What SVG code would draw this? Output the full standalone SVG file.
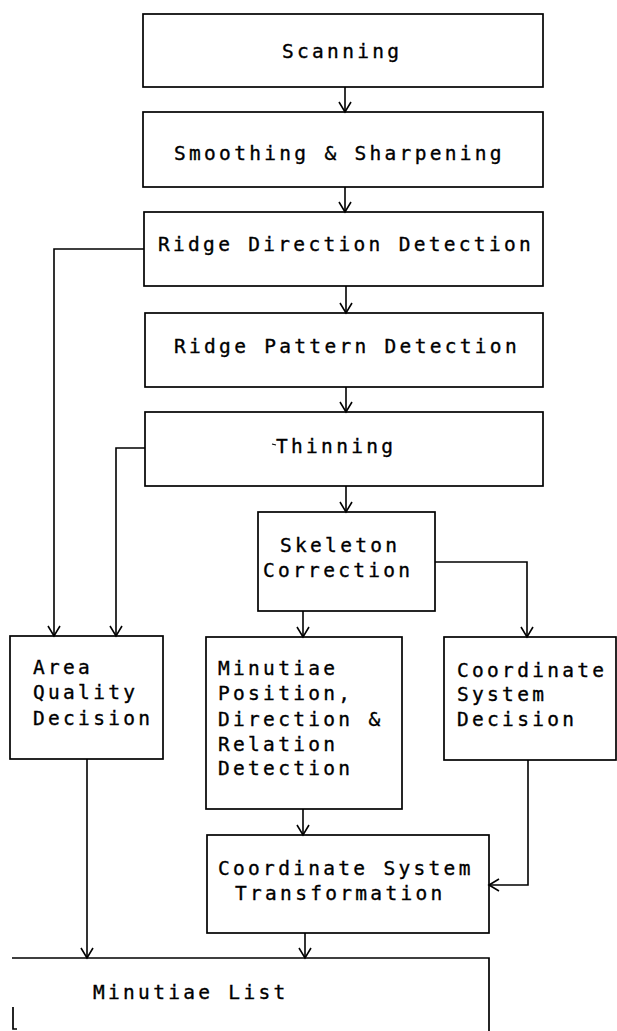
<svg xmlns="http://www.w3.org/2000/svg" width="617" height="1031" viewBox="0 0 617 1031">
  <style>
    .box { fill: none; stroke: #000; stroke-width: 1.7; }
    .lbl { font-family: "DejaVu Sans Mono", "Liberation Mono", monospace; font-size: 19.5px; letter-spacing: 3.3px; fill: #000; stroke: #000; stroke-width: 0.35; }
    .wire { fill: none; stroke: #000; stroke-width: 1.6; }
  </style>
  <defs>
    <marker id="arrow" viewBox="-12 -8 14 16" refX="0" refY="0" markerWidth="14" markerHeight="16" markerUnits="userSpaceOnUse" orient="auto">
      <path d="M-10,-6 L0,0 L-10,6" fill="none" stroke="#000" stroke-width="1.6"/>
    </marker>
  </defs>
  <rect width="617" height="1031" fill="#fff"/>

  <g id="scanning">
    <rect class="box" x="143" y="14" width="400" height="73"/>
    <text class="lbl" x="282" y="58">Scanning</text>
  </g>
  <g id="smoothing">
    <rect class="box" x="143" y="112" width="400" height="75"/>
    <text class="lbl" x="174" y="160">Smoothing &amp; Sharpening</text>
  </g>
  <g id="ridge-direction">
    <rect class="box" x="144" y="212" width="399" height="74"/>
    <text class="lbl" x="158" y="251">Ridge Direction Detection</text>
  </g>
  <g id="ridge-pattern">
    <rect class="box" x="145" y="313" width="398" height="74"/>
    <text class="lbl" x="174" y="353">Ridge Pattern Detection</text>
  </g>
  <g id="thinning">
    <rect class="box" x="145" y="412" width="398" height="74"/>
    <line x1="272" y1="444" x2="276" y2="445" stroke="#000" stroke-width="1.2"/>
    <text class="lbl" x="276" y="453">Thinning</text>
  </g>
  <g id="skeleton-correction">
    <rect class="box" x="258" y="512" width="177" height="99"/>
    <text class="lbl" x="280" y="552">Skeleton</text>
    <text class="lbl" x="263" y="577">Correction</text>
  </g>
  <g id="area-quality">
    <rect class="box" x="10" y="636" width="153" height="123"/>
    <text class="lbl" x="33" y="674">Area</text>
    <text class="lbl" x="33" y="699">Quality</text>
    <text class="lbl" x="33" y="725">Decision</text>
  </g>
  <g id="minutiae-detection">
    <rect class="box" x="206" y="637" width="196" height="172"/>
    <text class="lbl" x="218" y="675">Minutiae</text>
    <text class="lbl" x="218" y="700">Position,</text>
    <text class="lbl" x="218" y="726">Direction &amp;</text>
    <text class="lbl" x="218" y="751">Relation</text>
    <text class="lbl" x="218" y="775">Detection</text>
  </g>
  <g id="coordinate-decision">
    <rect class="box" x="444" y="637" width="172" height="123"/>
    <text class="lbl" x="457" y="677">Coordinate</text>
    <text class="lbl" x="457" y="701">System</text>
    <text class="lbl" x="457" y="726">Decision</text>
  </g>
  <g id="coordinate-transformation">
    <rect class="box" x="207" y="835" width="282" height="98"/>
    <text class="lbl" x="218" y="875">Coordinate System</text>
    <text class="lbl" x="235" y="900">Transformation</text>
  </g>
  <g id="minutiae-list">
    <path class="box" d="M12,958 H489 V1031"/>
    <path class="box" d="M13,1007 V1029 H17"/>
    <text class="lbl" x="93" y="999">Minutiae List</text>
  </g>

  <g id="connectors">
    <path class="wire" d="M345,87 V112" marker-end="url(#arrow)"/>
    <path class="wire" d="M345,187 V212" marker-end="url(#arrow)"/>
    <path class="wire" d="M346,286 V313" marker-end="url(#arrow)"/>
    <path class="wire" d="M346,387 V412" marker-end="url(#arrow)"/>
    <path class="wire" d="M346,486 V512" marker-end="url(#arrow)"/>
    <path class="wire" d="M144,249 H54 V636" marker-end="url(#arrow)"/>
    <path class="wire" d="M145,448 H116 V636" marker-end="url(#arrow)"/>
    <path class="wire" d="M303,611 V637" marker-end="url(#arrow)"/>
    <path class="wire" d="M435,562 H527 V637" marker-end="url(#arrow)"/>
    <path class="wire" d="M303,809 V835" marker-end="url(#arrow)"/>
    <path class="wire" d="M528,760 V885 H489" marker-end="url(#arrow)"/>
    <path class="wire" d="M87,759 V958" marker-end="url(#arrow)"/>
    <path class="wire" d="M305,933 V958" marker-end="url(#arrow)"/>
  </g>
</svg>
